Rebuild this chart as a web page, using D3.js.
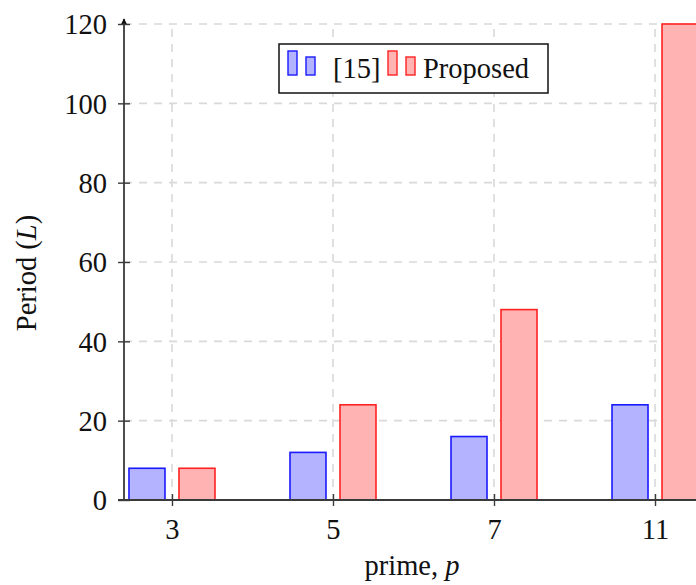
<!DOCTYPE html>
<html><head><meta charset="utf-8">
<script src="https://cdn.jsdelivr.net/npm/d3@7/dist/d3.min.js"></script>
<style>body{margin:0;background:#fff;overflow:hidden}svg{display:block}</style>
</head><body>
<script>
const categories = ["3", "5", "7", "11"];
const refValues = [8, 12, 16, 24];        // [15]
const proposedValues = [8, 24, 48, 120];  // Proposed
const yTicks = [0, 20, 40, 60, 80, 100, 120];
const seriesNames = ["[15]", "Proposed"];

const W = 696, H = 585;
const FONT = "'Liberation Serif','Times New Roman',serif";
const FS = 28.5;
const svg = d3.select("body").append("svg").attr("width", W).attr("height", H);

const x = d3.scalePoint().domain(categories).range([124, 703]).padding(0.298);
const y = d3.scaleLinear().domain([0, 120]).range([500, 24]);

const gridColor = "#d9d9d9";
// grids
svg.append("g").selectAll("line").data(yTicks.slice(1)).join("line")
  .attr("x1", 124).attr("x2", W).attr("y1", d => y(d)).attr("y2", d => y(d))
  .attr("stroke", gridColor).attr("stroke-width", 1.6).attr("stroke-dasharray", "8,7");
svg.append("g").selectAll("line").data(categories).join("line")
  .attr("x1", d => x(d)).attr("x2", d => x(d)).attr("y1", y(120) + 5).attr("y2", y(0))
  .attr("stroke", gridColor).attr("stroke-width", 1.6).attr("stroke-dasharray", "8,7");

// bars
const bw = 36, off = 25;
const series = [
  {name: seriesNames[0], values: refValues, fill: "#b3b3ff", stroke: "#1a1aff", dx: -off},
  {name: seriesNames[1], values: proposedValues, fill: "#ffb3b3", stroke: "#ff2222", dx: off}
];
series.forEach(s => {
  svg.append("g").selectAll("rect").data(categories).join("rect")
    .attr("x", (c) => x(c) + s.dx - bw / 2)
    .attr("width", bw)
    .attr("y", (c, i) => y(s.values[i]))
    .attr("height", (c, i) => y(0) - y(s.values[i]))
    .attr("fill", s.fill).attr("stroke", s.stroke).attr("stroke-width", 1.6);
});

// axes
const axisColor = "#3a3a3a";
svg.append("defs").append("marker").attr("id", "arr").attr("viewBox", "0 0 10 10")
  .attr("refX", 9).attr("refY", 5).attr("markerWidth", 4).attr("markerHeight", 4)
  .attr("orient", "auto").attr("markerUnits", "strokeWidth")
  .append("path").attr("d", "M0,0 L10,5 L0,10 L3,5 Z").attr("fill", "#111");

svg.append("line").attr("x1", 124).attr("x2", 124).attr("y1", 500).attr("y2", 19)
  .attr("stroke", axisColor).attr("stroke-width", 1.8).attr("marker-end", "url(#arr)");
svg.append("line").attr("x1", 118).attr("x2", 708).attr("y1", 500).attr("y2", 500)
  .attr("stroke", axisColor).attr("stroke-width", 1.8).attr("marker-end", "url(#arr)");

const yAxis = d3.axisLeft(y).tickValues(yTicks).tickSize(6).tickPadding(16).tickFormat(d3.format("d"));
const gy = svg.append("g").attr("transform", "translate(124,0)").call(yAxis);
gy.select(".domain").remove();
gy.selectAll(".tick line").attr("x2", 6).attr("x1", -6).attr("stroke", axisColor).attr("stroke-width", 1.4);
gy.selectAll(".tick text").attr("font-family", FONT).attr("font-size", FS).attr("fill", "#111").attr("x", -17).attr("dy", "0.34em");

const xAxis = d3.axisBottom(x).tickSize(6).tickPadding(10);
const gx = svg.append("g").attr("transform", "translate(0,500)").call(xAxis);
gx.select(".domain").remove();
gx.selectAll(".tick line").attr("y1", -6).attr("y2", 6).attr("stroke", axisColor).attr("stroke-width", 1.4);
gx.selectAll(".tick text").attr("font-family", FONT).attr("font-size", FS).attr("fill", "#111").attr("y", 39).attr("dy", 0);

// axis labels
const xl = svg.append("text").attr("x", 412).attr("y", 575).attr("text-anchor", "middle")
  .attr("font-family", FONT).attr("font-size", FS).attr("fill", "#111");
xl.append("tspan").text("prime, ");
xl.append("tspan").attr("font-style", "italic").text("p");

const yl = svg.append("text").attr("transform", "translate(36,273) rotate(-90)").attr("text-anchor", "middle")
  .attr("font-family", FONT).attr("font-size", FS).attr("fill", "#111");
yl.append("tspan").text("Period (");
yl.append("tspan").attr("font-style", "italic").text("L");
yl.append("tspan").text(")");

// legend
const lg = svg.append("g");
lg.append("rect").attr("x", 279).attr("y", 44).attr("width", 269).attr("height", 49)
  .attr("fill", "#fff").attr("stroke", "#111").attr("stroke-width", 1.5);
const legendItems = [
  {s: series[0], bx: 288, tx: 333},
  {s: series[1], bx: 388, tx: 423}
];
legendItems.forEach(it => {
  lg.append("rect").attr("x", it.bx).attr("y", 51).attr("width", 9).attr("height", 24)
    .attr("fill", it.s.fill).attr("stroke", it.s.stroke).attr("stroke-width", 1.4);
  lg.append("rect").attr("x", it.bx + 18).attr("y", 57).attr("width", 9).attr("height", 18)
    .attr("fill", it.s.fill).attr("stroke", it.s.stroke).attr("stroke-width", 1.4);
  lg.append("text").attr("x", it.tx).attr("y", 78).attr("font-family", FONT).attr("font-size", FS)
    .attr("fill", "#111").text(it.s.name);
});
</script>
</body></html>
